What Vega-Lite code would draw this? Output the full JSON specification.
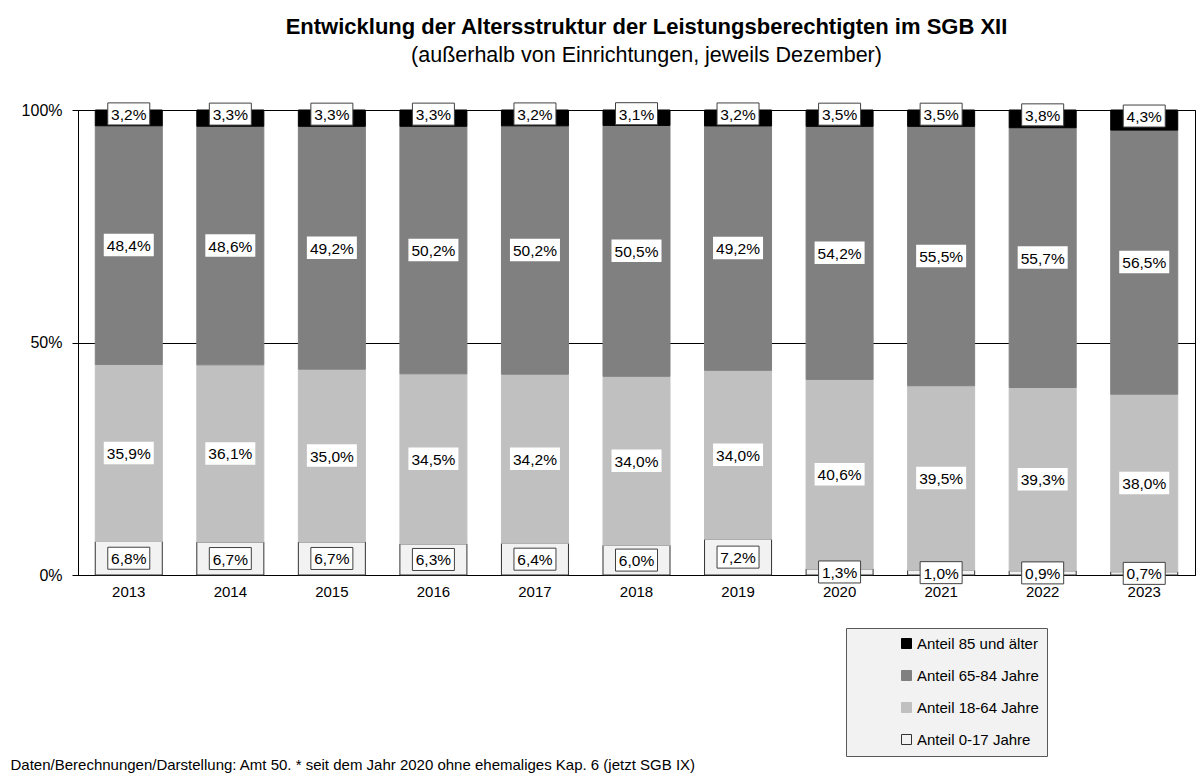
{
  "$schema": "https://vega.github.io/schema/vega-lite/v6.json",
  "width": 1117,
  "height": 465,
  "autosize": {"type": "none"},
  "padding": {"left": 78, "top": 110, "right": 7, "bottom": 201},
  "background": "white",
  "config": {
    "font": "Liberation Sans",
    "view": {"stroke": "#000000", "strokeWidth": 1},
    "axis": {"labelColor": "#000000", "labelFont": "Liberation Sans"}
  },
  "title": {
    "text": "Entwicklung der Altersstruktur der Leistungsberechtigten im SGB XII",
    "subtitle": "(außerhalb von Einrichtungen, jeweils Dezember)",
    "anchor": "middle",
    "frame": "group",
    "dx": 10,
    "offset": 33,
    "fontSize": 22,
    "fontWeight": "bold",
    "color": "#000000",
    "subtitleFontSize": 21.5,
    "subtitleColor": "#000000",
    "subtitlePadding": 6,
    "font": "Liberation Sans",
    "subtitleFont": "Liberation Sans"
  },
  "data": {
    "values": [
      {"Jahr": "2013", "Gruppe": "Anteil 0-17 Jahre", "Wert": 6.8},
      {"Jahr": "2013", "Gruppe": "Anteil 18-64 Jahre", "Wert": 35.9},
      {"Jahr": "2013", "Gruppe": "Anteil 65-84 Jahre", "Wert": 48.4},
      {"Jahr": "2013", "Gruppe": "Anteil 85 und älter", "Wert": 3.2},
      {"Jahr": "2014", "Gruppe": "Anteil 0-17 Jahre", "Wert": 6.7},
      {"Jahr": "2014", "Gruppe": "Anteil 18-64 Jahre", "Wert": 36.1},
      {"Jahr": "2014", "Gruppe": "Anteil 65-84 Jahre", "Wert": 48.6},
      {"Jahr": "2014", "Gruppe": "Anteil 85 und älter", "Wert": 3.3},
      {"Jahr": "2015", "Gruppe": "Anteil 0-17 Jahre", "Wert": 6.7},
      {"Jahr": "2015", "Gruppe": "Anteil 18-64 Jahre", "Wert": 35.0},
      {"Jahr": "2015", "Gruppe": "Anteil 65-84 Jahre", "Wert": 49.2},
      {"Jahr": "2015", "Gruppe": "Anteil 85 und älter", "Wert": 3.3},
      {"Jahr": "2016", "Gruppe": "Anteil 0-17 Jahre", "Wert": 6.3},
      {"Jahr": "2016", "Gruppe": "Anteil 18-64 Jahre", "Wert": 34.5},
      {"Jahr": "2016", "Gruppe": "Anteil 65-84 Jahre", "Wert": 50.2},
      {"Jahr": "2016", "Gruppe": "Anteil 85 und älter", "Wert": 3.3},
      {"Jahr": "2017", "Gruppe": "Anteil 0-17 Jahre", "Wert": 6.4},
      {"Jahr": "2017", "Gruppe": "Anteil 18-64 Jahre", "Wert": 34.2},
      {"Jahr": "2017", "Gruppe": "Anteil 65-84 Jahre", "Wert": 50.2},
      {"Jahr": "2017", "Gruppe": "Anteil 85 und älter", "Wert": 3.2},
      {"Jahr": "2018", "Gruppe": "Anteil 0-17 Jahre", "Wert": 6.0},
      {"Jahr": "2018", "Gruppe": "Anteil 18-64 Jahre", "Wert": 34.0},
      {"Jahr": "2018", "Gruppe": "Anteil 65-84 Jahre", "Wert": 50.5},
      {"Jahr": "2018", "Gruppe": "Anteil 85 und älter", "Wert": 3.1},
      {"Jahr": "2019", "Gruppe": "Anteil 0-17 Jahre", "Wert": 7.2},
      {"Jahr": "2019", "Gruppe": "Anteil 18-64 Jahre", "Wert": 34.0},
      {"Jahr": "2019", "Gruppe": "Anteil 65-84 Jahre", "Wert": 49.2},
      {"Jahr": "2019", "Gruppe": "Anteil 85 und älter", "Wert": 3.2},
      {"Jahr": "2020", "Gruppe": "Anteil 0-17 Jahre", "Wert": 1.3},
      {"Jahr": "2020", "Gruppe": "Anteil 18-64 Jahre", "Wert": 40.6},
      {"Jahr": "2020", "Gruppe": "Anteil 65-84 Jahre", "Wert": 54.2},
      {"Jahr": "2020", "Gruppe": "Anteil 85 und älter", "Wert": 3.5},
      {"Jahr": "2021", "Gruppe": "Anteil 0-17 Jahre", "Wert": 1.0},
      {"Jahr": "2021", "Gruppe": "Anteil 18-64 Jahre", "Wert": 39.5},
      {"Jahr": "2021", "Gruppe": "Anteil 65-84 Jahre", "Wert": 55.5},
      {"Jahr": "2021", "Gruppe": "Anteil 85 und älter", "Wert": 3.5},
      {"Jahr": "2022", "Gruppe": "Anteil 0-17 Jahre", "Wert": 0.9},
      {"Jahr": "2022", "Gruppe": "Anteil 18-64 Jahre", "Wert": 39.3},
      {"Jahr": "2022", "Gruppe": "Anteil 65-84 Jahre", "Wert": 55.7},
      {"Jahr": "2022", "Gruppe": "Anteil 85 und älter", "Wert": 3.8},
      {"Jahr": "2023", "Gruppe": "Anteil 0-17 Jahre", "Wert": 0.7},
      {"Jahr": "2023", "Gruppe": "Anteil 18-64 Jahre", "Wert": 38.0},
      {"Jahr": "2023", "Gruppe": "Anteil 65-84 Jahre", "Wert": 56.5},
      {"Jahr": "2023", "Gruppe": "Anteil 85 und älter", "Wert": 4.3}
    ]
  },
  "transform": [
    {"stack": "Wert", "groupby": ["Jahr"], "sort": [{"field": "Gruppe", "order": "ascending"}], "offset": "normalize", "as": ["y0", "y1"]},
    {"calculate": "(datum.y0 + datum.y1) / 2", "as": "mid"},
    {"calculate": "replace(format(datum.Wert, '.1f'), '.', ',') + '%'", "as": "Label"}
  ],
  "layer": [
    {
      "mark": {"type": "bar", "strokeWidth": 1},
      "encoding": {
        "x": {
          "field": "Jahr", "type": "ordinal",
          "scale": {"paddingInner": 0.34, "paddingOuter": 0.17},
          "axis": {
            "labelAngle": 0, "ticks": false, "tickSize": 0, "labelPadding": 9,
            "labelFontSize": 15, "domainColor": "#000000", "grid": false,
            "title": "Daten/Berechnungen/Darstellung:  Amt 50. * seit dem Jahr 2020 ohne ehemaliges Kap. 6 (jetzt SGB IX)",
            "titleFont": "Liberation Sans", "titleFontSize": 15, "titleFontWeight": "normal",
            "titleColor": "#000000", "titleAlign": "left", "titleAnchor": "start",
            "titleBaseline": "alphabetic", "titleX": -68, "titleY": 194
          }
        },
        "y": {
          "field": "y0", "type": "quantitative",
          "scale": {"domain": [0, 1], "nice": false},
          "axis": {
            "values": [0, 0.5, 1], "format": ".0%", "title": null,
            "grid": true, "gridColor": "#000000", "gridWidth": 1, "gridOpacity": 1,
            "domainColor": "#000000", "tickColor": "#000000", "tickSize": 6,
            "labelPadding": 10, "labelFontSize": 16
          }
        },
        "y2": {"field": "y1"},
        "color": {
          "field": "Gruppe", "type": "nominal",
          "scale": {
            "domain": ["Anteil 85 und älter", "Anteil 65-84 Jahre", "Anteil 18-64 Jahre", "Anteil 0-17 Jahre"],
            "range": ["#000000", "#808080", "#c0c0c0", "#f2f2f2"]
          },
          "legend": {
            "title": null, "orient": "none", "legendX": 768, "legendY": 518,
            "fillColor": "#f2f2f2", "strokeColor": "#595959", "padding": 8,
            "symbolType": "square", "symbolSize": 100, "symbolOffset": 45,
            "symbolStrokeWidth": 1,
            "labelFontSize": 15, "labelFont": "Liberation Sans", "labelColor": "#000000",
            "labelOffset": 3, "rowPadding": 16, "labelLimit": 400,
            "labelExpr": "datum.label + '\u00a0\u00a0\u00a0\u00a0\u00a0\u00a0\u00a0\u00a0\u00a0\u00a0\u00a0\u00a0'"
          }
        },
        "stroke": {
          "field": "Gruppe", "type": "nominal",
          "scale": {
            "domain": ["Anteil 85 und älter", "Anteil 65-84 Jahre", "Anteil 18-64 Jahre", "Anteil 0-17 Jahre"],
            "range": ["#000000", "#808080", "#c0c0c0", "#333333"]
          }
        }
      }
    },
    {
      "transform": [{"filter": "datum.Gruppe === 'Anteil 18-64 Jahre' || datum.Gruppe === 'Anteil 65-84 Jahre'"}],
      "mark": {"type": "point", "shape": "M-1,-0.45L1,-0.45L1,0.45L-1,0.45Z", "size": 2500, "filled": true, "fill": "#ffffff", "fillOpacity": 1, "strokeWidth": 0, "opacity": 1},
      "encoding": {
        "x": {"field": "Jahr", "type": "ordinal"},
        "y": {"field": "mid", "type": "quantitative", "title": null}
      }
    },
    {
      "transform": [{"filter": "datum.Gruppe === 'Anteil 0-17 Jahre'"}],
      "mark": {"type": "point", "shape": "M-1,-0.524L1,-0.524L1,0.524L-1,0.524Z", "size": 1764, "filled": false, "fill": "#ffffff", "fillOpacity": 1, "stroke": "#404040", "strokeWidth": 1, "opacity": 1},
      "encoding": {
        "x": {"field": "Jahr", "type": "ordinal"},
        "y": {"field": "mid", "type": "quantitative", "title": null}
      }
    },
    {
      "transform": [{"filter": "datum.Gruppe === 'Anteil 85 und älter'"}],
      "mark": {"type": "point", "shape": "M-1,-0.524L1,-0.524L1,0.524L-1,0.524Z", "size": 1764, "filled": false, "fill": "#ffffff", "fillOpacity": 1, "stroke": "#404040", "strokeWidth": 1, "opacity": 1, "yOffset": -4},
      "encoding": {
        "x": {"field": "Jahr", "type": "ordinal"},
        "y": {"field": "mid", "type": "quantitative", "title": null}
      }
    },
    {
      "transform": [{"filter": "datum.Gruppe !== 'Anteil 85 und älter'"}],
      "mark": {"type": "text", "fontSize": 15.5, "font": "Liberation Sans", "color": "#000000", "align": "center", "baseline": "middle", "dy": 1},
      "encoding": {
        "x": {"field": "Jahr", "type": "ordinal"},
        "y": {"field": "mid", "type": "quantitative", "title": null},
        "text": {"field": "Label"}
      }
    },
    {
      "transform": [{"filter": "datum.Gruppe === 'Anteil 85 und älter'"}],
      "mark": {"type": "text", "fontSize": 15.5, "font": "Liberation Sans", "color": "#000000", "align": "center", "baseline": "middle", "dy": -3},
      "encoding": {
        "x": {"field": "Jahr", "type": "ordinal"},
        "y": {"field": "mid", "type": "quantitative", "title": null},
        "text": {"field": "Label"}
      }
    }
  ]
}
